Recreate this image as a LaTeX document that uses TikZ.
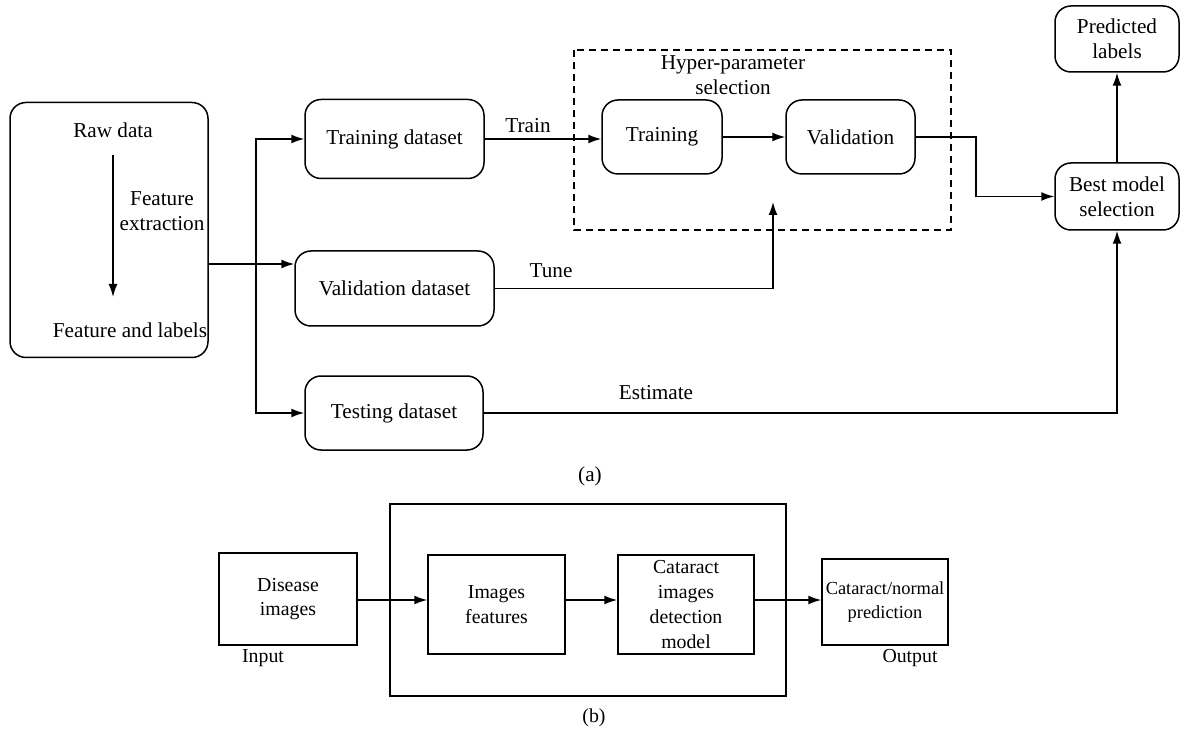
\documentclass[tikz,border=0pt]{standalone}
\usepackage{fontspec}
\setmainfont{Liberation Serif}
\usetikzlibrary{arrows.meta}
\begin{document}
\begin{tikzpicture}[x=0.5pt,y=-0.5pt,
  every node/.style={font=\fontsize{10.6pt}{12.5pt}\selectfont},
  rbox/.style={draw, line width=0.75pt, rounded corners=8pt, inner sep=0pt, align=center},
  sbox/.style={draw, line width=0.75pt, inner sep=0pt, align=center, font=\fontsize{9.9pt}{12.4pt}\selectfont},
  lbl/.style={inner sep=0pt, align=center},
  arr/.style={line width=0.75pt, -{Latex[length=6.5pt,width=4.5pt]}},
  ln/.style={line width=0.75pt}]
\useasboundingbox (0,0) rectangle (1182,737);

% ---- (a) ----
\node[rbox, minimum width=99pt, minimum height=127.5pt] (lb) at (109,230) {};
\node[lbl] (raw) at (113,130) {Raw data};
\node[lbl] (fe) at (162,211) {Feature\\extraction};
\node[lbl] (fl) at (130,330) {Feature and labels};
\coordinate (fa) at (113,155);
\coordinate (fb) at (113,297);
\draw[arr] (fa) -- (fb);

\node[rbox, minimum width=89.5pt, minimum height=39.5pt] (td) at (394.5,139) {Training dataset};
\node[rbox, minimum width=99.5pt, minimum height=37.5pt] (vd) at (394.5,288.5) {Validation dataset};
\node[rbox, minimum width=89pt, minimum height=37pt] (ts) at (394,413) {Testing dataset};

\draw[ln, dashed, dash pattern=on 3.5pt off 2.5pt] (574,50) rectangle (951,230);
\node[lbl] (hp) at (733,75) {Hyper-parameter\\selection};
\node[rbox, minimum width=60pt, minimum height=37pt] (tr) at (662,137) {Training};
\node[rbox, minimum width=64.5pt, minimum height=37pt] (va) at (850.5,137) {Validation};

\node[rbox, minimum width=62pt, minimum height=33.5pt] (bm) at (1117,196.5) {Best model\\selection};
\node[rbox, minimum width=62pt, minimum height=33pt] (pl) at (1117,39) {Predicted\\labels};

\coordinate (sp) at (256,264);
\draw[ln] ([yshift=-17pt]lb.east) -- (sp);
\draw[arr] (sp) -- ([yshift=12.25pt]vd.west);
\draw[arr] (sp) |- (td.west);
\draw[arr] (sp) |- (ts.west);

\draw[arr] (td.east) -- (td.east -| tr.west);
\node[lbl] (trainl) at (528,126) {Train};
\draw[arr] (tr.east) -- (va.west);
\draw[arr] (va.east) -- ++(60,0) |- (bm.west);

\coordinate (tuneend) at (773,202);
\draw[arr] (vd.east) -| (tuneend);
\node[lbl] (tunel) at (551,271) {Tune};

\draw[arr] (ts.east) -| (bm.south);
\node[lbl] (estl) at (656,393) {Estimate};

\draw[arr] (bm.north) -- (pl.south);

\node[lbl] (capa) at (590,476) {(a)};

% ---- (b) ----
\draw[ln] (390,504) rectangle (786,696);
\node[sbox, minimum width=69pt, minimum height=46pt] (di) at (288,599) {Disease\\images};
\node[sbox, minimum width=68.5pt, minimum height=49.5pt] (imf) at (496.5,604.5) {Images\\features};
\node[sbox, minimum width=68pt, minimum height=49.5pt] (cd) at (686,604.5) {Cataract\\images\\detection\\model};
\node[sbox, minimum width=63pt, minimum height=43pt, font=\fontsize{9.2pt}{12.4pt}\selectfont] (cn) at (885,602) {Cataract/normal\\prediction};
\node[lbl, font=\fontsize{9.9pt}{12.4pt}\selectfont] (inl) at (263,658) {Input};
\node[lbl, font=\fontsize{9.9pt}{12.4pt}\selectfont] (outl) at (910,658) {Output};

\draw[arr] (di.east |- 0,600) -- (imf.west |- 0,600);
\draw[arr] (imf.east |- 0,600) -- (cd.west |- 0,600);
\draw[arr] (cd.east |- 0,600) -- (cn.west |- 0,600);

\node[lbl, font=\fontsize{9.9pt}{12.4pt}\selectfont] (capb) at (594,718) {(b)};
\end{tikzpicture}
\end{document}
